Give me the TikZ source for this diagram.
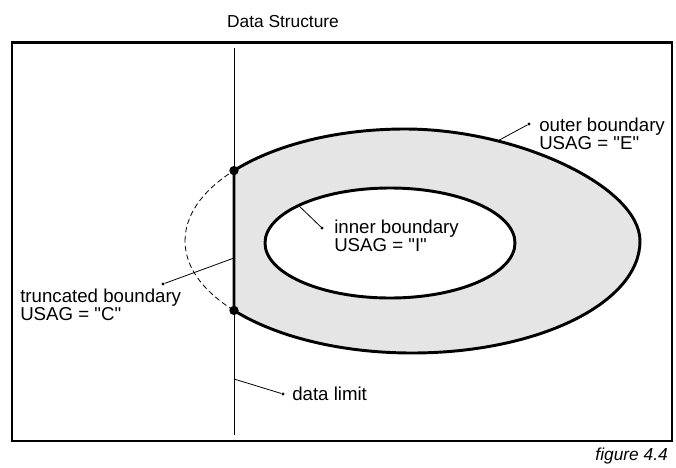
\documentclass[tikz,border=0pt]{standalone}
\usepackage{fontspec}
\setmainfont{Liberation Sans}[Ligatures=TeXOff]
\usetikzlibrary{intersections,calc}
\begin{document}
\begin{tikzpicture}[x=0.75pt,y=-0.75pt,
  lbl/.style={align=left,inner sep=0pt,font=\fontsize{14}{13.5}\selectfont},
  thin line/.style={line width=0.6pt},
  bound/.style={line width=2.2pt},
  leader/.style={line width=0.6pt},
  ldot/.style={circle,fill=black,inner sep=0pt,minimum size=2.4pt},
  bdot/.style={circle,fill=black,inner sep=0pt,minimum size=7pt}]
\useasboundingbox (0,0) rectangle (676,468);
% title
\node[lbl,font=\fontsize{13}{13}\selectfont] (title) at (283,22) {Data Structure};
% frame
\draw[line width=1.9pt] (12,42.5) rectangle (672,441);
% outer boundary shape
\def\outershape{(185,241) .. controls (185,179) and (284,129) .. (405,129)
  .. controls (518,129) and (640,187) .. (640,241)
  .. controls (640,303) and (538,353) .. (412,353)
  .. controls (287,353) and (185,303) .. (185,241) -- cycle}
\path[name path=outer] \outershape;
\begin{scope}
  \clip (234,0) rectangle (676,468);
  \fill[black!10] \outershape;
  \draw[bound,line join=round] \outershape;
\end{scope}
\begin{scope}
  \clip (0,0) rectangle (234,468);
  \draw[thin line,dash pattern=on 4pt off 2.5pt] \outershape;
\end{scope}
% data limit line
\coordinate (dlTop) at (234,48);
\coordinate (dlBot) at (234,435);
\draw[thin line,name path=dlim] (dlTop) -- (dlBot);
% truncated boundary
\path[name intersections={of=outer and dlim, by={i1,i2}}];
\draw[bound] (i1) -- (i2);
\node[bdot] (dotA) at (i1) {};
\node[bdot] (dotB) at (i2) {};
% inner boundary
\coordinate (ic) at (390,243);
\draw[bound,fill=white] (ic) ellipse [x radius=125, y radius=55];
% outer label
\node[ldot] (oDot) at (529,124) {};
\path[name path=oray] (oDot) -- (455,164);
\path[name intersections={of=outer and oray, by={oEnd}}];
\draw[leader] (oEnd) -- (oDot);
\node[lbl,anchor=west] (outerlbl) at (539,134) {outer boundary\\USAG = "E"};
% inner label
\node[ldot] (iDot) at (322,228) {};
\coordinate (iEnd) at ($(ic)+(223:125 and 55)$);
\draw[leader] (iEnd) -- (iDot);
\node[lbl,anchor=west] (innerlbl) at (334,236) {inner boundary\\USAG = "I"};
% truncated label
\node[ldot] (tDot) at (163,284) {};
\coordinate (tEnd) at (234,258);
\draw[leader] (tEnd) -- (tDot);
\node[lbl,anchor=west] (trunclbl) at (20,305) {truncated boundary\\USAG = "C"};
% data limit label
\node[ldot] (dDot) at (283,394) {};
\coordinate (dEnd) at (234,379);
\draw[leader] (dEnd) -- (dDot);
\node[lbl,anchor=west] (dlimlbl) at (292,394) {data limit};
% figure caption
\node[lbl,anchor=east,font=\fontsize{13}{13}\selectfont\itshape] (fig) at (668,456) {figure 4.4};
\end{tikzpicture}
\end{document}
